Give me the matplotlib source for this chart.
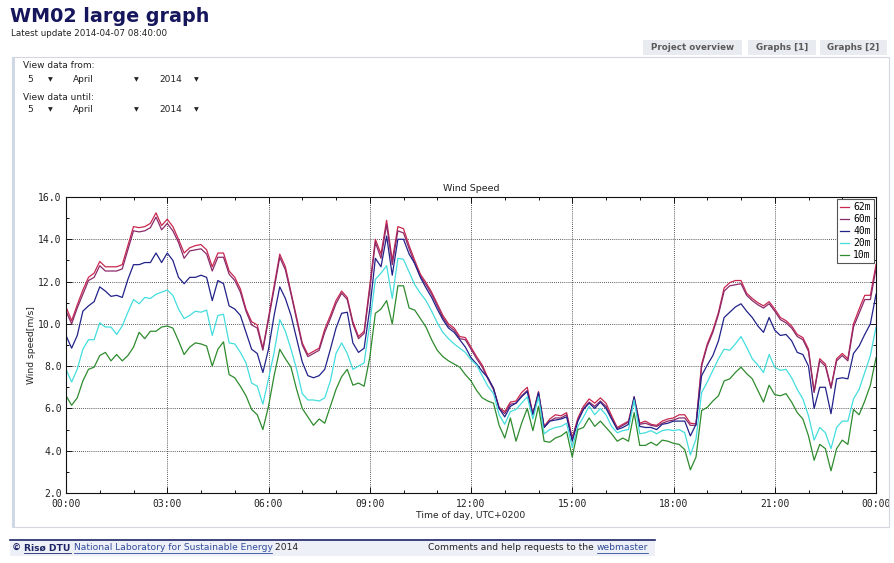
import numpy as np
import matplotlib
matplotlib.use("Agg")
import matplotlib.pyplot as plt
from matplotlib.patches import Rectangle
from matplotlib.lines import Line2D
from matplotlib.ticker import MultipleLocator, FuncFormatter

W, H = 894, 563

# wind speed [m/s], one sample every 10 minutes from 00:00 to 24:00
minutes = np.arange(0, 24 * 60 + 1, 10)
heights = ["62m", "60m", "40m", "20m", "10m"]
line_colors = ["#c8284f", "#8b2a6b", "#22228a", "#44dddd", "#2e8b2e"]

ws62 = [10.8, 10.15, 10.9, 11.6, 12.2, 12.4, 12.95, 12.7, 12.7, 12.7,
        12.8, 13.7, 14.6, 14.55, 14.6, 14.75, 15.25, 14.65, 14.95, 14.6,
        14.0, 13.35, 13.6, 13.7, 13.75, 13.5, 12.7, 13.35, 13.35, 12.5,
        12.2, 11.65, 10.7, 10.1, 9.95, 8.85, 10.3, 11.8, 13.3, 12.7,
        11.5, 10.3, 9.1, 8.55, 8.7, 8.85, 9.75, 10.4, 11.1, 11.55,
        11.25, 10.1, 9.4, 9.65, 11.8, 14.0, 13.3, 14.9, 13.0, 14.6,
        14.5, 13.7, 13.0, 12.35, 11.95, 11.5, 10.95, 10.4, 10.0, 9.8,
        9.4, 9.35, 8.9, 8.45, 8.05, 7.45, 6.95, 6.05, 5.85, 6.3,
        6.35, 6.75, 7.0, 5.75, 6.8, 5.15, 5.5, 5.7, 5.65, 5.8,
        4.6, 5.55, 6.1, 6.45, 6.25, 6.5, 6.25, 5.65, 5.1, 5.25,
        5.4, 6.55, 5.3, 5.4, 5.25, 5.2, 5.4, 5.5, 5.55, 5.7,
        5.7, 5.3, 5.27, 8.1, 9.05, 9.7, 10.55, 11.7, 11.95, 12.05,
        12.05, 11.45, 11.2, 11.0, 10.85, 11.05, 10.7, 10.3, 10.15, 9.9,
        9.5, 9.35, 8.8, 6.8, 8.35, 8.1, 7.0, 8.35, 8.6, 8.35,
        10.0, 10.7, 11.35, 11.35, 12.8]

ws60 = [10.6, 10.0, 10.75, 11.4, 12.05, 12.2, 12.75, 12.5, 12.5, 12.5,
        12.6, 13.5, 14.4, 14.35, 14.4, 14.55, 15.05, 14.45, 14.75, 14.4,
        13.85, 13.1, 13.45, 13.5, 13.55, 13.3, 12.5, 13.15, 13.15, 12.35,
        12.05, 11.5, 10.6, 9.95, 9.8, 8.75, 10.2, 11.65, 13.15, 12.55,
        11.4, 10.2, 9.0, 8.45, 8.6, 8.75, 9.6, 10.25, 10.95, 11.45,
        11.15, 10.0, 9.3, 9.55, 11.6, 13.85, 13.1, 14.7, 12.8, 14.4,
        14.3, 13.55, 12.85, 12.25, 11.85, 11.4, 10.85, 10.3, 9.9, 9.7,
        9.3, 9.25, 8.8, 8.35, 7.95, 7.4, 6.9, 6.0, 5.75, 6.2,
        6.25, 6.6, 6.85, 5.7, 6.7, 5.1, 5.4, 5.55, 5.55, 5.7,
        4.55, 5.45, 6.0, 6.3, 6.1, 6.35, 6.1, 5.55, 5.05, 5.2,
        5.35, 6.45, 5.25, 5.3, 5.2, 5.15, 5.3, 5.4, 5.45, 5.55,
        5.55, 5.2, 5.2, 8.0, 8.95, 9.6, 10.45, 11.55, 11.8, 11.85,
        11.9, 11.35, 11.1, 10.9, 10.75, 10.95, 10.6, 10.2, 10.05, 9.8,
        9.4, 9.25, 8.7, 6.75, 8.25, 8.0, 6.95, 8.25, 8.5, 8.25,
        9.85, 10.5, 11.15, 11.15, 12.6]

ws40 = [9.45, 8.85, 9.45, 10.6, 10.85, 11.05, 11.75, 11.55, 11.3, 11.35,
        11.25, 12.1, 12.8, 12.8, 12.9, 12.9, 13.35, 12.9, 13.35, 13.0,
        12.2, 11.9, 12.2, 12.2, 12.3, 12.2, 11.1, 12.05, 11.9, 10.85,
        10.7, 10.4, 9.6, 8.8, 8.6, 7.7, 8.8, 10.4, 11.75, 11.2,
        10.4, 9.3, 8.2, 7.55, 7.45, 7.55, 7.85, 8.8, 9.8, 10.5,
        10.55, 9.1, 8.65, 8.85, 10.7, 13.1, 12.7, 14.15, 12.3, 14.0,
        14.0, 13.3, 12.85, 12.2, 11.7, 11.25, 10.7, 10.2, 9.8, 9.6,
        9.25, 8.9, 8.4, 8.1, 7.75, 7.45, 6.95, 6.0, 5.6, 6.1,
        6.25, 6.55, 6.8, 5.7, 6.75, 5.1, 5.4, 5.45, 5.5, 5.6,
        4.45, 5.4, 5.95, 6.25, 6.0, 6.3, 6.0, 5.5, 5.0, 5.1,
        5.25, 6.55, 5.15, 5.1, 5.1, 5.0, 5.25, 5.3, 5.4, 5.4,
        5.4, 4.7, 5.25, 7.55, 8.05, 8.5, 9.2, 10.3, 10.55, 10.8,
        10.95, 10.6, 10.3, 9.9, 9.6, 10.3, 9.7, 9.45, 9.5, 9.2,
        8.65, 8.55, 8.0, 6.0, 7.0, 7.0, 5.75, 7.4, 7.45, 7.4,
        8.6, 8.95, 9.5, 10.0, 11.4]

ws20 = [7.85, 7.25, 7.85, 8.8, 9.25, 9.25, 10.05, 9.85, 9.85, 9.5,
        9.9, 10.55, 11.15, 10.95, 11.25, 11.2, 11.4, 11.5, 11.6, 11.35,
        10.7, 10.25, 10.4, 10.6, 10.55, 10.65, 9.45, 10.4, 10.45, 9.1,
        9.05, 8.65, 8.15, 7.2, 7.05, 6.2, 7.4, 8.65, 10.2, 9.65,
        8.8, 7.85, 6.7, 6.4, 6.4, 6.35, 6.5, 7.3, 8.6, 9.1,
        8.6, 7.85, 8.0, 8.15, 10.0, 12.1, 12.4, 12.75, 11.2, 13.1,
        13.05, 12.45, 11.85, 11.45, 11.1, 10.6, 10.05, 9.6, 9.3, 9.05,
        8.85, 8.65, 8.3, 8.05, 7.55, 7.05, 6.7, 5.7, 5.25, 5.85,
        5.95, 6.25, 6.55, 5.5, 6.55, 4.8, 5.0, 5.1, 5.15, 5.3,
        4.15, 5.15, 5.6, 6.1, 5.7, 6.0, 5.7, 5.15, 4.85, 4.95,
        5.0, 6.4, 4.8, 4.85, 4.95, 4.8, 4.95, 5.0, 4.95, 5.0,
        4.85, 3.8, 4.55, 6.75, 7.25, 7.8, 8.35, 8.8, 8.75, 9.05,
        9.4, 8.9, 8.35, 8.05, 7.7, 8.55, 7.95, 7.8, 7.85, 7.45,
        6.9, 6.45, 5.65, 4.5, 5.1, 4.85, 4.1, 5.1, 5.4, 5.4,
        6.45, 6.9, 7.7, 8.5, 9.85]

ws10 = [6.6, 6.15, 6.5, 7.3, 7.85, 7.95, 8.5, 8.65, 8.25, 8.55,
        8.25, 8.5, 8.9, 9.6, 9.3, 9.65, 9.65, 9.85, 9.9, 9.8,
        9.2, 8.55, 8.9, 9.1, 9.05, 8.95, 8.0, 8.8, 9.15, 7.6,
        7.45, 7.05, 6.6, 5.95, 5.7, 5.0, 6.1, 7.55, 8.8, 8.35,
        7.95, 6.9, 6.0, 5.6, 5.2, 5.5, 5.3, 6.1, 6.9, 7.5,
        7.85, 7.1, 7.2, 7.05, 8.4, 10.5, 10.7, 11.1, 10.0, 11.8,
        11.8, 10.75, 10.65, 10.25, 9.85, 9.25, 8.75, 8.45, 8.25, 8.1,
        7.95, 7.6, 7.3, 6.85, 6.5, 6.35, 6.25, 5.2, 4.6, 5.55,
        4.45, 5.3, 6.0, 4.95, 6.1, 4.45, 4.4, 4.6, 4.7, 4.9,
        3.7, 5.0, 5.1, 5.55, 5.15, 5.4, 5.1, 4.8, 4.45, 4.6,
        4.45, 5.8, 4.25, 4.25, 4.4, 4.25, 4.5, 4.45, 4.35, 4.3,
        4.05, 3.1, 3.7, 5.9, 6.05, 6.35, 6.6, 7.3, 7.4, 7.7,
        7.95, 7.65, 7.4, 6.85, 6.3, 7.1, 6.65, 6.6, 6.7, 6.3,
        5.8, 5.5, 4.7, 3.55, 4.3, 4.1, 3.05, 4.1, 4.5, 4.3,
        5.95, 5.7, 6.35, 7.1, 8.4]

series = [ws62, ws60, ws40, ws20, ws10]
x_ticklabels = ["00:00", "03:00", "06:00", "09:00", "12:00",
                "15:00", "18:00", "21:00", "00:00"]

fig = plt.figure(figsize=(W / 100, H / 100), dpi=100)
fig.patch.set_facecolor("white")


def ptext(x, y, s, **kw):
    # place text with page pixel coordinates (origin top-left)
    return fig.text(x / W, 1 - y / H, s, **kw)


def prect(x0, y0, x1, y1, **kw):
    r = Rectangle((x0 / W, 1 - y1 / H), (x1 - x0) / W, (y1 - y0) / H,
                  transform=fig.transFigure, **kw)
    fig.add_artist(r)
    return r


def pline(x0, y0, x1, y1, **kw):
    fig.add_artist(Line2D([x0 / W, x1 / W], [1 - y0 / H, 1 - y1 / H],
                          transform=fig.transFigure, **kw))


# page header
ptext(10, 16, "WM02 large graph", fontsize=13.8, fontweight="bold",
      color="#16165c", va="center")
ptext(11, 33.5, "Latest update 2014-04-07 08:40:00", fontsize=6.3,
      color="#222222", va="center")

# tabs
for (x0, x1, lab) in [(643, 742, "Project overview"), (748, 816, "Graphs [1]"),
                      (820, 887, "Graphs [2]")]:
    prect(x0, 40, x1, 55, facecolor="#e8ebf0", edgecolor="none")
    ptext((x0 + x1) / 2, 47.5, lab, fontsize=6.3, fontweight="bold",
          color="#5a5a5a", ha="center", va="center")

# content panel
prect(12, 57, 889, 527, facecolor="none", edgecolor="#d4d8de", lw=0.8)
prect(12, 57, 15, 527, facecolor="#d0d8e6", edgecolor="none")

# date pickers
for ylab, yrow, lab in [(66, 80, "View data from:"), (98, 110, "View data until:")]:
    ptext(23, ylab, lab, fontsize=6.5, color="#222222", va="center")
    ptext(27, yrow, "5", fontsize=6.5, color="#222222", va="center")
    ptext(50, yrow, "\u25bc", fontsize=4.5, color="#222222", va="center", ha="center")
    ptext(73, yrow, "April", fontsize=6.5, color="#222222", va="center")
    ptext(136, yrow, "\u25bc", fontsize=4.5, color="#222222", va="center", ha="center")
    ptext(159, yrow, "2014", fontsize=6.5, color="#222222", va="center")
    ptext(196, yrow, "\u25bc", fontsize=4.5, color="#222222", va="center", ha="center")

# chart
ax = fig.add_axes([66 / W, 1 - 493 / H, 810 / W, 296 / H])
hours = minutes / 60.0
for vals, lab, c in zip(series, heights, line_colors):
    ax.plot(hours, vals, color=c, lw=0.9, label=lab)

ax.set_xlim(0, 24)
ax.set_ylim(2, 16)
ax.xaxis.set_major_locator(MultipleLocator(3))
ax.xaxis.set_minor_locator(MultipleLocator(1))
ax.yaxis.set_major_locator(MultipleLocator(2))
ax.yaxis.set_minor_locator(MultipleLocator(1))
ax.set_xticks(np.arange(0, 25, 3))
ax.set_xticklabels(x_ticklabels)
ax.yaxis.set_major_formatter(FuncFormatter(lambda v, p: "%.1f" % v))
ax.tick_params(which="both", direction="in", top=True, right=True,
               width=0.7, colors="#111111")
ax.tick_params(which="major", length=4, labelsize=7)
ax.tick_params(axis="x", which="major", pad=4.5)
ax.tick_params(axis="y", which="major", pad=3)
ax.tick_params(which="minor", length=2.5)
for lab in ax.get_xticklabels() + ax.get_yticklabels():
    lab.set_family("DejaVu Sans Mono")
    lab.set_color("#222222")
ax.grid(True, which="major", color="#222222", lw=0.6, ls=(0, (1, 1.5)))
for s in ax.spines.values():
    s.set_linewidth(0.8)
    s.set_color("#111111")

ax.set_title("Wind Speed", fontsize=6.8, color="#222222", pad=4)
ax.set_xlabel("Time of day, UTC+0200", fontsize=6.6, color="#222222", labelpad=1)
ax.set_ylabel("Wind speed[m/s]", fontsize=6.6, color="#222222", labelpad=2)

leg = ax.legend(loc="upper right", prop={"family": "DejaVu Sans Mono", "size": 7},
                handlelength=0.9, handletextpad=0.4, labelspacing=0.2,
                borderpad=0.3, borderaxespad=0.25, fancybox=False,
                framealpha=1, edgecolor="#555555")
leg.get_frame().set_linewidth(0.8)

# footer
prect(10, 540, 655, 556, facecolor="#eef0f8", edgecolor="none")
pline(10, 540, 655, 540, color="#1c2466", lw=1.2)

fig.canvas.draw()
rend = fig.canvas.get_renderer()

parts = [("\u00a9 ", "#1c2466", "bold", False),
         ("Ris\u00f8 DTU", "#1c2466", "bold", True),
         (" ", "#1c2466", "normal", False),
         ("National Laboratory for Sustainable Energy", "#2f4a9a", "normal", True),
         (" 2014", "#222222", "normal", False)]
xcur = 12
for s, c, fw, ul in parts:
    t = ptext(xcur, 548, s, fontsize=6.6, color=c, fontweight=fw, va="center")
    bb = t.get_window_extent(rend)
    if ul:
        pline(xcur, 552.5, xcur + bb.width, 552.5, color=c, lw=0.6)
    xcur += bb.width

t = ptext(428, 548, "Comments and help requests to the ", fontsize=6.6,
          color="#222222", va="center")
bb = t.get_window_extent(rend)
x2 = 428 + bb.width
t2 = ptext(x2, 548, "webmaster", fontsize=6.6, color="#2f4a9a", va="center")
bb2 = t2.get_window_extent(rend)
pline(x2, 552.5, x2 + bb2.width, 552.5, color="#2f4a9a", lw=0.6)

fig.savefig("out.png", dpi=100, facecolor="white")
